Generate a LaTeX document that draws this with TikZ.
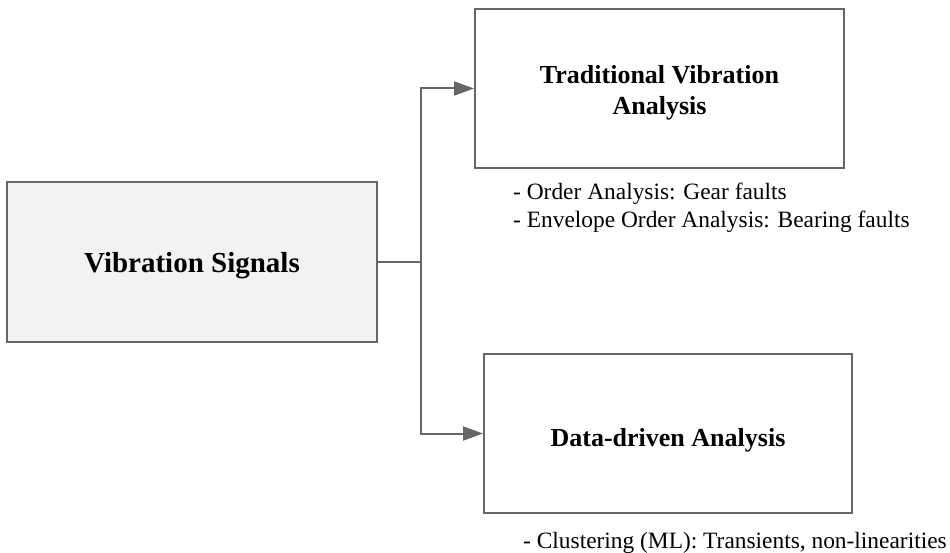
\documentclass[tikz,border=0pt]{standalone}
\usepackage{fontspec}
\setmainfont{Liberation Serif}
\usetikzlibrary{arrows.meta}
\definecolor{edgegray}{HTML}{666666}
\definecolor{boxfill}{HTML}{F2F2F2}
\begin{document}
\begin{tikzpicture}[x=1pt,y=-1pt,
  box/.style={draw=edgegray, line width=2pt, minimum height=159pt, inner sep=0pt},
  title/.style={inner sep=0pt, align=center, font=\fontsize{26}{31}\selectfont\bfseries},
  bigtitle/.style={inner sep=0pt, font=\fontsize{29}{34}\selectfont\bfseries},
  note/.style={inner sep=0pt, align=left, font=\fontsize{23.4}{28}\selectfont},
  conn/.style={draw=edgegray, line width=2pt, -{Triangle[length=20pt,width=14pt]}}
]
\useasboundingbox (0,0) rectangle (950,553);

% boxes
\node[box, fill=boxfill, minimum width=370pt, minimum height=160pt] (vs) at (192,262) {};
\node[box, minimum width=369pt] (tva) at (659.5,88.5) {};
\node[box, minimum width=368pt] (dda) at (668,433.5) {};

% titles
\node[bigtitle] (vst) at (192,265.4) {Vibration Signals};
\node[title] (tvat) at (659.5,92.4) {Traditional Vibration\\Analysis};
\node[title] (ddat) at (668,440) {Data-driven Analysis};

% notes
\node[note, anchor=west] (tvan) at (513,207.6) {- Order Analysis: Gear faults\\- Envelope Order Analysis: Bearing faults};
\node[note, anchor=base west] (ddan) at (523,548) {- Clustering (ML): Transients, non-linearities};

% connectors
\coordinate (j) at (421,262);
\draw[conn] (vs.east) -- (j) |- (tva.west);
\draw[conn] (j) |- (dda.west);
\end{tikzpicture}
\end{document}
